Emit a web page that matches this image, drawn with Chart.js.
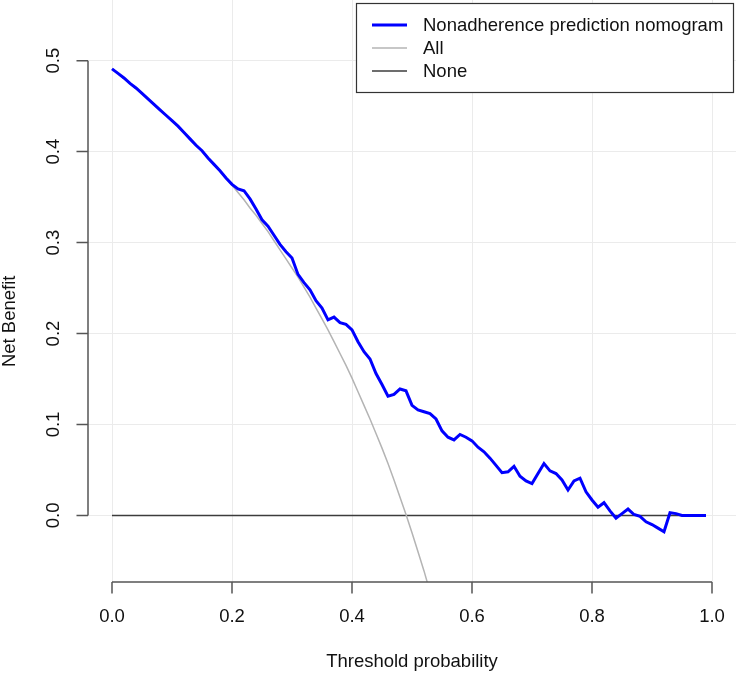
<!DOCTYPE html>
<html>
<head>
<meta charset="utf-8">
<script src="https://cdn.jsdelivr.net/npm/chart.js@4.4.1/dist/chart.umd.min.js"></script>
<style>
  html, body { margin: 0; padding: 0; background: #fff; }
  #wrap { width: 738px; height: 674px; }
</style>
</head>
<body>
<div id="wrap"><canvas id="dca" width="738" height="674"></canvas></div>
<script>
// Threshold probabilities (0.00 .. 0.99)
const thresholds = [];
for (let i = 0; i < 100; i++) thresholds.push(+(i / 100).toFixed(2));

// Net benefit
const nomogram = [
  0.491, 0.486, 0.481, 0.475, 0.470, 0.464, 0.458, 0.452, 0.446, 0.440,
  0.434, 0.428, 0.421, 0.414, 0.407, 0.401, 0.393, 0.386, 0.379, 0.371,
  0.364, 0.359, 0.357, 0.348, 0.337, 0.325, 0.318, 0.308, 0.298, 0.290,
  0.283, 0.265, 0.256, 0.248, 0.236, 0.228, 0.215, 0.218, 0.212, 0.210,
  0.204, 0.191, 0.180, 0.172, 0.156, 0.144, 0.131, 0.133, 0.139, 0.137,
  0.121, 0.116, 0.114, 0.112, 0.106, 0.093, 0.086, 0.083, 0.089, 0.086,
  0.082, 0.075, 0.070, 0.063, 0.055, 0.047, 0.048, 0.054, 0.043, 0.038,
  0.035, 0.046, 0.057, 0.049, 0.046, 0.039, 0.028, 0.038, 0.041, 0.026,
  0.017, 0.009, 0.014, 0.005, -0.003, 0.002, 0.007, 0.001, -0.001, -0.007,
  -0.010, -0.014, -0.018, 0.003, 0.002, 0.000, 0.000, 0.000, 0.000, 0.000
];

// "All" curve, read up to where it leaves the plot
const treatAll = [
  0.491, 0.486, 0.480, 0.475, 0.469, 0.464, 0.458, 0.452, 0.446, 0.440,
  0.434, 0.428, 0.421, 0.414, 0.408, 0.401, 0.393, 0.386, 0.379, 0.371,
  0.363, 0.355, 0.347, 0.338, 0.330, 0.321, 0.312, 0.302, 0.292, 0.282,
  0.272, 0.262, 0.251, 0.240, 0.228, 0.216, 0.204, 0.191, 0.178, 0.165,
  0.151, 0.136, 0.121, 0.106, 0.090, 0.074, 0.057, 0.039, 0.020, 0.001,
  -0.019, -0.040, -0.061, -0.084
];

const treatNone = thresholds.map(() => 0);

const xTicks = [0, 0.2, 0.4, 0.6, 0.8, 1.0];
const yTicks = [0, 0.1, 0.2, 0.3, 0.4, 0.5];

const FONT = '"Liberation Sans", Arial, sans-serif';
const FS = 18.5;

const rAxes = {
  id: "rAxes",
  afterDraw(chart) {
    const { ctx, chartArea } = chart;
    const xs = chart.scales.x, ys = chart.scales.y;
    ctx.save();
    ctx.strokeStyle = "#555";
    ctx.lineWidth = 1.5;
    ctx.fillStyle = "#111";
    ctx.font = FS + "px " + FONT;

    // x axis
    const ax = chartArea.bottom;
    ctx.beginPath();
    ctx.moveTo(xs.getPixelForValue(xTicks[0]), ax);
    ctx.lineTo(xs.getPixelForValue(xTicks[xTicks.length - 1]), ax);
    xTicks.forEach(v => {
      const px = xs.getPixelForValue(v);
      ctx.moveTo(px, ax);
      ctx.lineTo(px, ax + 11.5);
    });
    ctx.stroke();
    ctx.textAlign = "center";
    ctx.textBaseline = "middle";
    xTicks.forEach(v => ctx.fillText(v.toFixed(1), xs.getPixelForValue(v), ax + 35));
    ctx.fillText("Threshold probability", (chartArea.left + chartArea.right) / 2, 662);

    // y axis
    const ay = chartArea.left;
    ctx.beginPath();
    ctx.moveTo(ay, ys.getPixelForValue(yTicks[0]));
    ctx.lineTo(ay, ys.getPixelForValue(yTicks[yTicks.length - 1]));
    yTicks.forEach(v => {
      const py = ys.getPixelForValue(v);
      ctx.moveTo(ay, py);
      ctx.lineTo(ay - 11.5, py);
    });
    ctx.stroke();
    yTicks.forEach(v => {
      ctx.save();
      ctx.translate(ay - 34, ys.getPixelForValue(v));
      ctx.rotate(-Math.PI / 2);
      ctx.fillText(v.toFixed(1), 0, 0);
      ctx.restore();
    });
    ctx.save();
    ctx.translate(10, (ys.getPixelForValue(0.5) + chartArea.bottom) / 2);
    ctx.rotate(-Math.PI / 2);
    ctx.fillText("Net Benefit", 0, 0);
    ctx.restore();

    // legend box
    ctx.fillStyle = "#fff";
    ctx.fillRect(356, 3, 377, 89);
    ctx.strokeStyle = "#333";
    ctx.lineWidth = 1.2;
    ctx.strokeRect(356.5, 3.5, 377, 89);
    ctx.textAlign = "left";
    ctx.fillStyle = "#111";
    const rows = [
      [chart.data.datasets[0], 25],
      [chart.data.datasets[1], 48],
      [chart.data.datasets[2], 71]
    ];
    rows.forEach(([ds, y]) => {
      ctx.strokeStyle = ds.borderColor;
      ctx.lineWidth = ds.borderWidth;
      ctx.beginPath();
      ctx.moveTo(372, y);
      ctx.lineTo(407, y);
      ctx.stroke();
      ctx.fillText(ds.label, 423, y + 1);
    });
    ctx.restore();
  }
};

const pts = arr => arr.map((v, i) => ({ x: thresholds[i], y: v }));

new Chart(document.getElementById("dca"), {
  type: "line",
  data: {
    datasets: [
      { label: "Nonadherence prediction nomogram", data: pts(nomogram), borderColor: "#0000ff", borderWidth: 3, order: 0 },
      { label: "All", data: pts(treatAll), borderColor: "#b4b4b4", borderWidth: 1.5, order: 1 },
      { label: "None", data: pts(treatNone), borderColor: "#3c3c3c", borderWidth: 1.5, order: 2 }
    ]
  },
  options: {
    responsive: false,
    animation: false,
    devicePixelRatio: 1,
    layout: { padding: { left: 88, right: 2, top: 0, bottom: 92 } },
    elements: { point: { radius: 0 }, line: { tension: 0, fill: false } },
    plugins: { legend: { display: false }, tooltip: { enabled: false } },
    scales: {
      x: {
        type: "linear",
        min: -0.04,
        max: 1.04,
        afterBuildTicks: s => { s.ticks = xTicks.map(v => ({ value: v })); },
        afterFit: s => { s.height = 0; },
        ticks: { display: false },
        border: { display: false },
        grid: { color: "#ebebeb", lineWidth: 1, drawTicks: false }
      },
      y: {
        type: "linear",
        min: -0.0732,
        max: 0.5667,
        afterBuildTicks: s => { s.ticks = yTicks.map(v => ({ value: v })); },
        afterFit: s => { s.width = 0; },
        ticks: { display: false },
        border: { display: false },
        grid: { color: "#ebebeb", lineWidth: 1, drawTicks: false }
      }
    }
  },
  plugins: [rAxes]
});
</script>
</body>
</html>
